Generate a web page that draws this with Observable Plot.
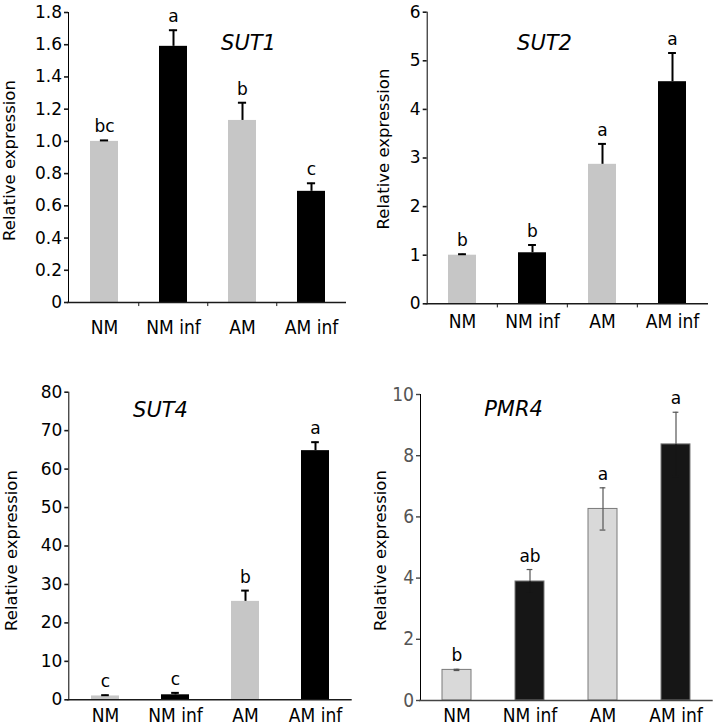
<!DOCTYPE html>
<html><head><meta charset="utf-8">
<script src="https://cdn.jsdelivr.net/npm/d3@7"></script>
<script src="https://cdn.jsdelivr.net/npm/@observablehq/plot@0.6"></script>
<style>
html,body{margin:0;padding:0;background:#fff;}
#root{position:relative;width:715px;height:727px;overflow:hidden;font-family:"DejaVu Sans",sans-serif;}
.panel{position:absolute;}
.panel svg{overflow:visible;}
</style></head><body><div id="root"></div>
<script>
const categories = ["NM", "NM inf", "AM", "AM inf"];
const treatment = ["mock", "inf", "mock", "inf"];

const sut1Values = [1.00, 1.59, 1.13, 0.69];
const sut1Errors = [0.006, 0.10, 0.11, 0.05];
const sut1Letters = ["bc", "a", "b", "c"];
const sut1Ticks = [0, 0.2, 0.4, 0.6, 0.8, 1.0, 1.2, 1.4, 1.6, 1.8];

const sut2Values = [1.00, 1.05, 2.87, 4.57];
const sut2Errors = [0.02, 0.16, 0.42, 0.59];
const sut2Letters = ["b", "b", "a", "a"];
const sut2Ticks = [0, 1, 2, 3, 4, 5, 6];

const sut4Values = [1.0, 1.3, 25.6, 64.8];
const sut4Errors = [0.2, 0.5, 2.8, 2.2];
const sut4Letters = ["c", "c", "b", "a"];
const sut4Ticks = [0, 10, 20, 30, 40, 50, 60, 70, 80];

const pmr4Values = [1.00, 3.89, 6.26, 8.37];
const pmr4Errors = [0.02, 0.39, 0.69, 1.05];
const pmr4Letters = ["b", "ab", "a", "a"];
const pmr4Ticks = [0, 2, 4, 6, 8, 10];

const yTitle = "Relative expression";

function build(cfg) {
  const rows = categories.map((c, i) => ({
    cat: c, type: treatment[i], value: cfg.values[i],
    hi: cfg.values[i] + cfg.errors[i],
    lo: cfg.values[i] - cfg.errors[i],
    letter: cfg.letters[i]
  }));
  const fw = cfg.width - cfg.ml - cfg.mr;
  const step = fw / categories.length;
  const bw = step * 0.4;
  const capInset = Math.max(0, (bw - cfg.cap) / 2);
  const yMax = cfg.ticks[cfg.ticks.length - 1];
  const marks = [
    Plot.barY(rows, Object.assign({x: "cat", y: "value", fill: "type"},
      cfg.barStroke ? {stroke: cfg.barStroke, strokeWidth: 1} : {})),
    Plot.ruleX(rows, {x: "cat", y1: "value", y2: "hi", stroke: cfg.errColor, strokeWidth: cfg.errWidth}),
    Plot.tickY(rows, {x: "cat", y: "hi", stroke: cfg.errColor, strokeWidth: cfg.errWidth, insetLeft: capInset, insetRight: capInset}),
    Plot.ruleY([0], {stroke: cfg.axisColor, strokeWidth: cfg.axisWidth, insetLeft: -1})
  ];
  if (cfg.twoSided) {
    const lowColor = d => d.type === "inf" ? cfg.colors[1] : cfg.errColor;
    marks.push(Plot.ruleX(rows, {x: "cat", y1: "lo", y2: "value", stroke: lowColor, strokeWidth: cfg.errWidth}));
    marks.push(Plot.tickY(rows, {x: "cat", y: "lo", stroke: lowColor, strokeWidth: cfg.errWidth, insetLeft: capInset, insetRight: capInset}));
  }
  if (cfg.separators) {
    marks.push(Plot.ruleX(categories.slice(1), {x: d => d, dx: -step / 2, y1: 0, y2: -yMax * 0.014, stroke: cfg.axisColor, strokeWidth: 1}));
  }
  marks.push(Plot.text(rows, {x: "cat", y: "hi", text: "letter", dy: -8, lineAnchor: "bottom", fontSize: 17, fill: "#000"}));
  marks.push(Plot.text([cfg.title], {frameAnchor: "top-left", text: d => d, dx: cfg.titleDx, dy: cfg.titleDy,
    fontStyle: "italic", fontSize: 21, textAnchor: "middle", lineAnchor: "middle", fill: "#000"}));
  marks.push(Plot.text([yTitle], {frameAnchor: "left", text: d => d, rotate: -90, dx: cfg.labDx, dy: cfg.labDy,
    fontSize: 16.5, textAnchor: "middle", lineAnchor: "middle", fill: "#000"}));

  const svg = Plot.plot({
    width: cfg.width, height: cfg.height,
    marginLeft: cfg.ml, marginRight: cfg.mr, marginTop: cfg.mt, marginBottom: cfg.mb,
    style: {fontFamily: "DejaVu Sans", fontSize: "17px", color: "#000", background: "transparent", overflow: "visible"},
    x: {domain: categories, paddingInner: 0.6, paddingOuter: 0.3, tickSize: 0, tickPadding: cfg.xPad, label: null},
    y: {domain: [0, yMax], ticks: cfg.ticks, tickFormat: cfg.fmt, tickSize: 4, tickPadding: 2.5, label: null, line: true},
    color: {domain: ["mock", "inf"], range: cfg.colors},
    marks
  });
  svg.querySelectorAll('[aria-label^="y-axis"] path, [aria-label^="y-axis"] line').forEach(el => {
    el.style.stroke = cfg.axisColor;
    el.style.strokeWidth = cfg.axisWidth;
  });
  svg.querySelectorAll('[aria-label^="x-axis"] text').forEach(el => {
    el.style.fontFamily = '"DejaVu Sans Condensed", "DejaVu Sans", sans-serif';
    el.style.fontSize = "19px";
  });
  if (cfg.yTickStyle) {
    svg.querySelectorAll('[aria-label^="y-axis"] text').forEach(el => {
      Object.assign(el.style, cfg.yTickStyle);
    });
  }
  const div = document.createElement("div");
  div.className = "panel";
  div.style.left = cfg.left + "px";
  div.style.top = cfg.top + "px";
  div.appendChild(svg);
  document.getElementById("root").appendChild(div);
}

const fmt1 = d => d === 0 ? "0" : d.toFixed(1);
const fmtInt = d => String(d);

build({values: sut1Values, errors: sut1Errors, letters: sut1Letters, ticks: sut1Ticks, fmt: fmt1, title: "SUT1",
  left: 0, top: 0, width: 357, height: 360, ml: 68, mr: 11, mt: 12, mb: 58, xPad: 17.6,
  colors: ["#c6c6c6", "#000000"], errColor: "#000", errWidth: 2, cap: 8, axisColor: "#1a1a1a", axisWidth: 1.6,
  separators: true, titleDx: 180, titleDy: 30.5, labDx: -59, labDy: 3});

build({values: sut2Values, errors: sut2Errors, letters: sut2Letters, ticks: sut2Ticks, fmt: fmtInt, title: "SUT2",
  left: 357, top: 0, width: 358, height: 360, ml: 69.7, mr: 7, mt: 11.7, mb: 56.7, xPad: 10.2,
  colors: ["#c6c6c6", "#000000"], errColor: "#000", errWidth: 2, cap: 8, axisColor: "#1a1a1a", axisWidth: 1.6,
  separators: true, titleDx: 117.3, titleDy: 30.8, labDx: -43.7, labDy: -9});

build({values: sut4Values, errors: sut4Errors, letters: sut4Letters, ticks: sut4Ticks, fmt: fmtInt, title: "SUT4",
  left: 0, top: 360, width: 357, height: 367, ml: 68.3, mr: 5.3, mt: 31.7, mb: 27.7, xPad: 8.8,
  colors: ["#c6c6c6", "#000000"], errColor: "#000", errWidth: 2, cap: 8, axisColor: "#1a1a1a", axisWidth: 1.6,
  separators: false, titleDx: 91.7, titleDy: 18.3, labDx: -56.8, labDy: 4.5});

build({values: pmr4Values, errors: pmr4Errors, letters: pmr4Letters, ticks: pmr4Ticks, fmt: fmtInt, title: "PMR4",
  left: 357, top: 360, width: 358, height: 367, ml: 63, mr: 2.3, mt: 34, mb: 27, xPad: 8,
  colors: ["#d9d9d9", "#161616"], barStroke: "#7a7a7a", errColor: "#555", errWidth: 1.2, cap: 6, twoSided: true,
  axisColor: "#444", axisWidth: 1.4, separators: false, titleDx: 93, titleDy: 15, labDx: -40, labDy: 3,
  yTickStyle: {fontFamily: '"Liberation Sans Narrow", "DejaVu Sans Condensed", sans-serif', fontSize: "19px", fill: "#555"}});
</script>
</body></html>
